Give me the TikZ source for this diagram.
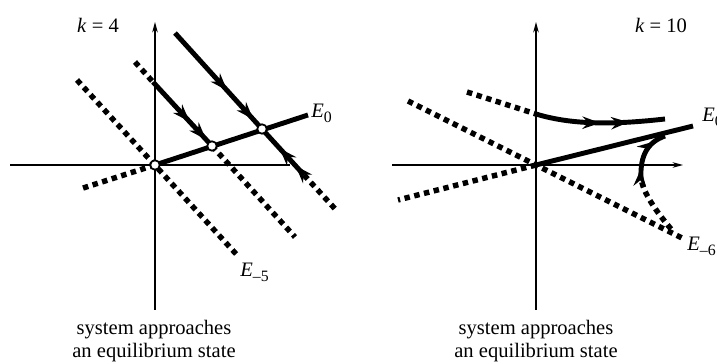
\documentclass[tikz,border=0pt]{standalone}
\usepackage{fontspec}
\setmainfont{Liberation Serif}
\usetikzlibrary{arrows.meta, decorations.markings}
\tikzset{
	axis/.style     ={line width=0.6pt},
	axisarr/.style  ={axis, -{Stealth[length=6pt, width=3.2pt]}},
	eqline/.style   ={line width=2.8pt},
	dotline/.style  ={line width=3.1pt, dash pattern=on 3.1pt off 2.6pt},
	flow/.style 2 args={postaction={decorate}, decoration={markings,
		mark=at position #1 with {\arrow{Stealth[length=10pt, width=7pt]}},
		mark=at position #2 with {\arrow{Stealth[length=10pt, width=7pt]}}}},
	state/.style    ={circle, draw, line width=1pt, fill=white, inner sep=0pt, minimum size=5.4pt},
	lbl/.style      ={inner sep=0pt},
}
\newcommand{\Esub}[1]{\textit{E}\raisebox{-0.5ex}{\small #1}}

\begin{document}
\begin{tikzpicture}[x=0.02cm, y=-0.02cm, font=\fontsize{11.7}{13}\selectfont]
	\useasboundingbox (0,0) rectangle (717,364);
	% k = 4
	\coordinate (o1) at (155,165);
	\coordinate (q1) at (212,146);
	\coordinate (q2) at (262,129);
	\draw[axis] (10,165) -- (290,165);
	\draw[axisarr] (155,310) -- (155,22);
	\draw[dotline] (77,80) -- (237,255);
	\draw[dotline] (135,62) -- (153,82);
	\draw[dotline] (q1) -- (295,237);
	\draw[dotline] (304,175) -- (337,211);
	\draw[dotline] (o1) -- (80,189);
	\draw[eqline] (o1) -- (308,115);
	\draw[eqline, flow={0.62}{0.9}] (153,82) -- (q1);
	\draw[eqline, flow={0.6}{0.9}] (175,33) -- (q2);
	\draw[eqline, flow={0.2}{0.58}] (304,175) -- (q2);
	\node[state] (s0) at (o1) {};
	\node[state] (s1) at (q1) {};
	\node[state] (s2) at (q2) {};
	\node[lbl] (k4) at (98,25) {\textit{k} = 4};
	\node[lbl, anchor=west] (e0) at (311,113) {\Esub{0}};
	\node[lbl, anchor=west] (e5) at (240,272) {\Esub{–5}};
	\node[align=center] (cap1) at (154,341) {system approaches\\an equilibrium state};
	% k = 10
	\coordinate (o2) at (536,165);
	\draw[axisarr] (392,165) -- (683,165);
	\draw[axisarr] (536,310) -- (536,22);
	\draw[dotline] (408,101) -- (682,238);
	\draw[dotline] (o2) -- (398,200);
	\draw[dotline] (467,92) -- (536,114);
	\draw[dotline] (671,229) .. controls (656,211) and (643,193) .. (641,178);
	\draw[eqline] (o2) -- (693,126);
	\draw[eqline, flow={0.5}{0.72}] (536,114) .. controls (575,126) and (620,124) .. (665,119);
	\draw[eqline, flow={0.18}{0.78}] (641,178) .. controls (640,155) and (648,142) .. (665,136);
	\node[lbl] (k10) at (661,25) {\textit{k} = 10};
	\node[lbl, anchor=west] (e10) at (702,117) {\Esub{0}};
	\node[lbl, anchor=west] (e6) at (687,246) {\Esub{–6}};
	\node[align=center] (cap2) at (536,341) {system approaches\\an equilibrium state};
\end{tikzpicture}
\end{document}
